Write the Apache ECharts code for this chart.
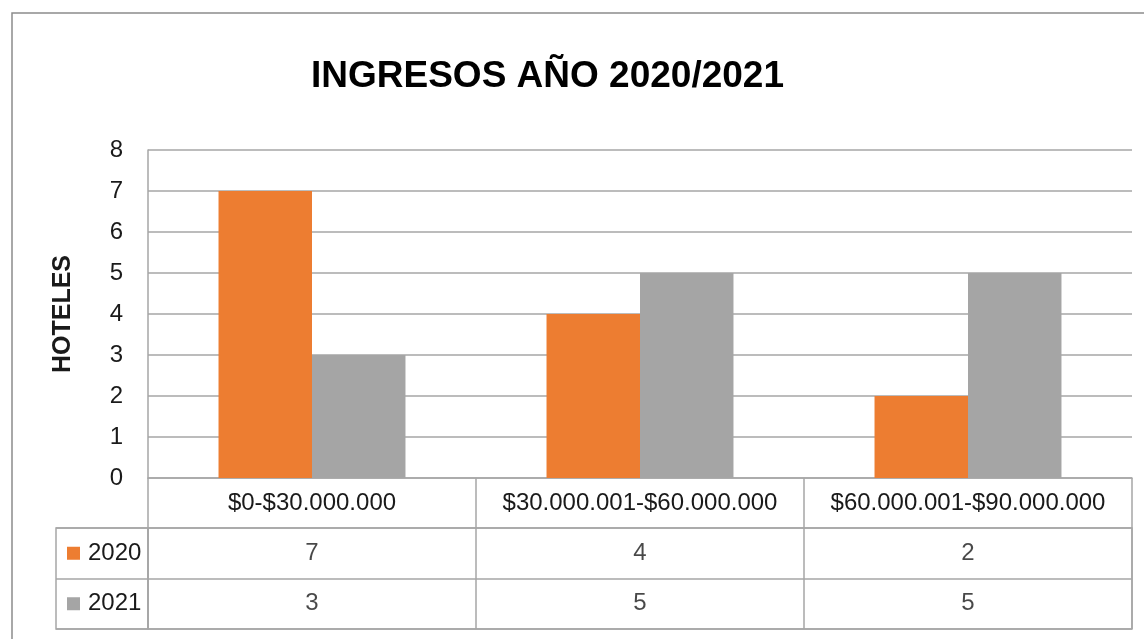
<!DOCTYPE html>
<html>
<head>
<meta charset="utf-8">
<script src="https://cdn.jsdelivr.net/npm/echarts@6/dist/echarts.min.js"></script>
<style>
  html, body { margin: 0; padding: 0; background: #fff; }
  #chart { width: 1144px; height: 639px; }
</style>
</head>
<body>
<div id="chart"></div>
<script>
// ---- Data ----
const categories = ['$0-$30.000.000', '$30.000.001-$60.000.000', '$60.000.001-$90.000.000']
const years = ['2020', '2021']
const data2020 = [7, 4, 2]
const data2021 = [3, 5, 5]
const yTicks = { min: 0, max: 8, interval: 1 }

const ORANGE = '#ED7D31'
const GREY = '#A5A5A5'
const LINE = '#A6A6A6'
const TEXT = '#1a1a1a'
const FONT = '"Liberation Sans", Arial, sans-serif'
const LABEL_SIZE = 24

const seriesValues = { '2020': data2020, '2021': data2021 }

// cell values for the data table, drawn through the table grid's axes
function tableCells(year) {
  return seriesValues[year].map((v, i) => [i, year, v])
}

const chart = echarts.init(document.getElementById('chart'), null, { renderer: 'canvas' })

chart.setOption({
  backgroundColor: '#fff',
  animation: false,
  textStyle: { fontFamily: FONT },
  title: {
    text: 'INGRESOS AÑO 2020/2021',
    left: 306,
    top: 53,
    textStyle: { fontFamily: FONT, fontSize: 37, fontWeight: 'bold', color: '#000' },
  },
  graphic: [
    {
      type: 'rect',
      shape: { x: 12, y: 13, width: 1300, height: 800 },
      style: { fill: 'none', stroke: '#8c8c8c', lineWidth: 1.5 },
      silent: true,
    },
  ],
  grid: [
    // plot area
    { left: 148, right: 12, top: 150, height: 328 },
    // value rows of the data table
    { left: 148, right: 12, top: 528, height: 101, show: true, borderColor: LINE, borderWidth: 1.5 },
    // legend column of the data table
    { left: 56, width: 92, top: 528, height: 101, show: true, borderColor: LINE, borderWidth: 1.5 },
  ],
  xAxis: [
    {
      type: 'category',
      gridIndex: 0,
      data: categories,
      axisLine: { lineStyle: { color: LINE, width: 1.5 } },
      axisTick: { show: true, interval: 0, length: 50, lineStyle: { color: LINE, width: 1.5 } },
      axisLabel: { interval: 0, margin: 13, fontSize: LABEL_SIZE, color: TEXT, fontFamily: FONT },
    },
    {
      type: 'category',
      gridIndex: 1,
      data: categories,
      axisLine: { show: false },
      axisTick: { show: false },
      axisLabel: { show: false },
      splitLine: { show: true, interval: 0, lineStyle: { color: LINE, width: 1.5 } },
    },
    {
      type: 'value',
      gridIndex: 2,
      show: false,
    },
  ],
  yAxis: [
    {
      type: 'value',
      gridIndex: 0,
      min: yTicks.min,
      max: yTicks.max,
      interval: yTicks.interval,
      name: 'HOTELES',
      nameLocation: 'middle',
      nameRotate: 90,
      nameGap: 72,
      nameTextStyle: { fontFamily: FONT, fontSize: 25, fontWeight: 'bold', color: TEXT },
      axisLine: { show: true, lineStyle: { color: LINE, width: 1.5 } },
      axisTick: { show: false },
      axisLabel: { margin: 25, fontSize: LABEL_SIZE, color: TEXT, fontFamily: FONT },
      splitLine: { lineStyle: { color: LINE, width: 1.5 } },
    },
    {
      type: 'category',
      gridIndex: 1,
      data: years,
      inverse: true,
      axisLine: { show: false },
      axisTick: { show: false },
      axisLabel: { show: false },
      splitLine: { show: true, interval: 0, lineStyle: { color: LINE, width: 1.5 } },
    },
    {
      type: 'category',
      gridIndex: 2,
      data: years,
      inverse: true,
      axisLine: { show: false },
      axisTick: { show: false },
      splitLine: { show: true, interval: 0, lineStyle: { color: LINE, width: 1.5 } },
      axisLabel: {
        inside: true,
        margin: 11,
        formatter(value) {
          return (value === '2020' ? '{a|}' : '{b|}') + '{t|' + value + '}'
        },
        rich: {
          a: { width: 13, height: 13, backgroundColor: ORANGE },
          b: { width: 13, height: 13, backgroundColor: GREY },
          t: { fontSize: LABEL_SIZE, color: TEXT, fontFamily: FONT, padding: [0, 0, 0, 8] },
        },
      },
    },
  ],
  series: [
    {
      name: '2020',
      type: 'bar',
      xAxisIndex: 0,
      yAxisIndex: 0,
      data: data2020,
      barGap: '0%',
      barCategoryGap: '43%',
      itemStyle: { color: ORANGE },
    },
    {
      name: '2021',
      type: 'bar',
      xAxisIndex: 0,
      yAxisIndex: 0,
      data: data2021,
      barGap: '0%',
      barCategoryGap: '43%',
      itemStyle: { color: GREY },
    },
    ...years.map((y) => ({
      name: y + ' tabla',
      type: 'scatter',
      xAxisIndex: 1,
      yAxisIndex: 1,
      data: tableCells(y),
      symbolSize: 0,
      silent: true,
      label: {
        show: true,
        position: 'inside',
        formatter: (p) => String(p.value[2]),
        fontSize: LABEL_SIZE,
        color: TEXT,
        fontFamily: FONT,
      },
    })),
  ],
})
</script>
</body>
</html>
